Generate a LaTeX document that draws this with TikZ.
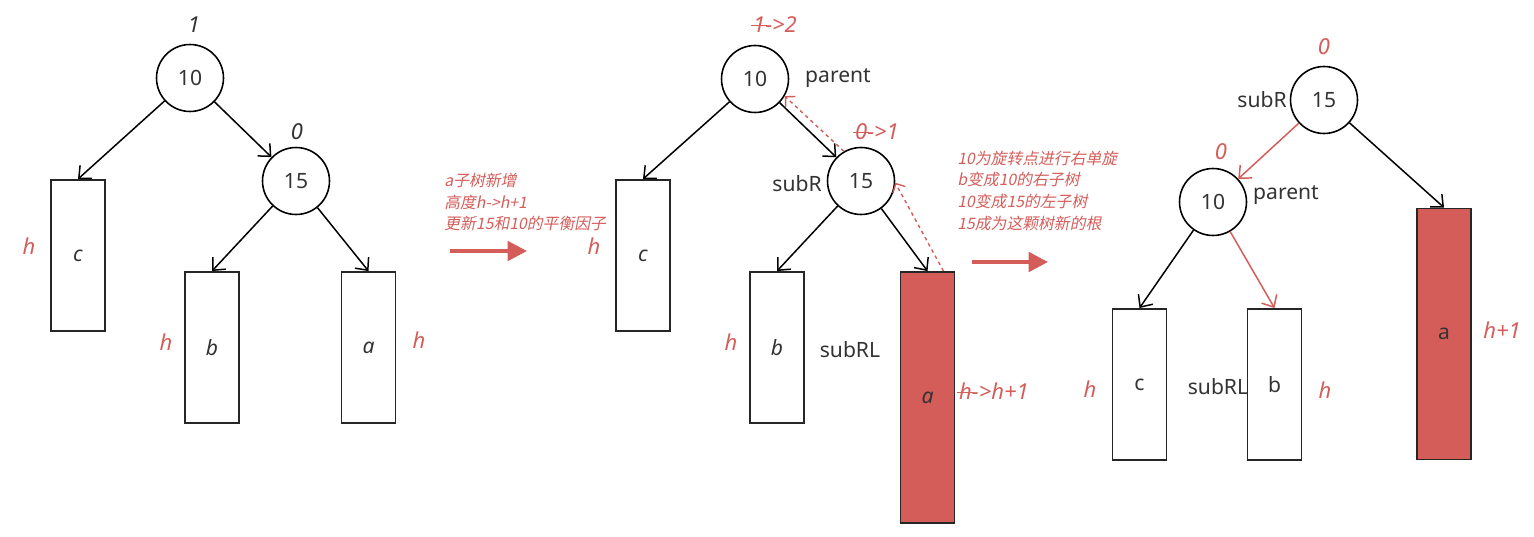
\documentclass[tikz,border=0pt]{standalone}
\usepackage{fontspec}
\setmainfont{Noto Sans}
\newfontfamily\cjk{Noto Sans CJK SC}[FakeSlant=0.2]
\usepackage{xcolor}
\usetikzlibrary{arrows.meta}
\definecolor{myred}{HTML}{D45D5A}
\definecolor{mytext}{HTML}{333333}
\newcommand{\struck}[1]{\ooalign{#1\cr\hidewidth\rule[0.55ex]{0.75em}{0.6pt}\hidewidth\cr}}

\begin{document}
\begin{tikzpicture}[x=0.02cm, y=-0.02cm,
    every node/.style={font=\fontsize{12}{14}\selectfont, text=mytext},
    key/.style={circle, draw, line width=0.9pt, minimum size=1.34cm, inner sep=0pt},
    sub/.style={draw=black!85, line width=1.1pt, minimum width=1.08cm, minimum height=3.02cm, inner sep=0pt},
    tall/.style={sub, fill=myred, minimum height=5.02cm},
    bal/.style={font=\fontsize{12.5}{14}\selectfont\itshape},
    hgt/.style={bal, text=myred},
    note/.style={text=myred, align=left, anchor=west, inner sep=0pt, font=\cjk\fontsize{9}{12.5}\selectfont},
    edge/.style={line width=0.85pt, -{Straight Barb[length=5.5pt, width=10pt]}},
    hint/.style={myred, thick, dash pattern=on 2pt off 2pt, -{Straight Barb[length=4pt, width=8pt]}},
    step arrow/.style={myred, line width=2.2pt, -{Triangle[length=11pt, width=11pt]}}
  ]
  \useasboundingbox (0,0) rectangle (1534,537);

  % before
  \node[key] (aN10) at (190,78) {10};
  \node[key] (aN15) at (296,181) {15};
  \node[sub] (aC) at (78,255.5) {\itshape c};
  \node[sub] (aB) at (212,347.5) {\itshape b};
  \node[sub] (aA) at (368.5,347.5) {\itshape a};
  \node[bal] (aBf10) at (194,25) {1};
  \node[bal] (aBf15) at (297,132) {0};
  \node[hgt] (aHc) at (29,246) {h};
  \node[hgt] (aHb) at (166,342) {h};
  \node[hgt] (aHa) at (419,340) {h};
  \draw[edge] (aN10) -- (aC.north);
  \draw[edge] (aN10) -- (aN15);
  \draw[edge] (aN15) -- (aB.north);
  \draw[edge] (aN15) -- (aA.north);

  \node[note] (note1) at (444,202) {a子树新增\\高度h->h+1\\更新15和10的平衡因子};
  \coordinate (s1) at (450,251);
  \coordinate (e1) at (527,251);
  \draw[step arrow] (s1) -- (e1);

  % after insert
  \node[key] (bN10) at (755,79) {10};
  \node[key] (bN15) at (861,181) {15};
  \node[sub] (bC) at (643,255.5) {\itshape c};
  \node[sub] (bB) at (777,347.5) {\itshape b};
  \node[tall] (bA) at (927.5,397.5) {\itshape a};
  \node[hgt] (bBf10) at (775,25) {\struck{1}->2};
  \node[hgt] (bBf15) at (877,132) {\struck{0}->1};
  \node (bPar) at (838,78) {parent};
  \node (bSubR) at (797,184) {subR};
  \node (bSubRL) at (850,350) {subRL};
  \node[hgt] (bHc) at (594,246) {h};
  \node[hgt] (bHb) at (731,342) {h};
  \node[hgt] (bHa) at (994,391) {\struck{h}->h+1};
  \draw[edge] (bN10) -- (bC.north);
  \draw[edge] (bN10) -- (bN15);
  \draw[edge] (bN15) -- (bB.north);
  \draw[edge] (bN15) -- (bA.north);
  \draw[hint] (bN15.120) -- (bN10.-30);
  \draw[hint] ([xshift=-0.24cm]bA.north east) -- (bN15.-3);

  \node[note] (note2) at (957,191) {10为旋转点进行右单旋\\b变成10的右子树\\10变成15的左子树\\15成为这颗树新的根};
  \coordinate (s2) at (972,262);
  \coordinate (e2) at (1048,262);
  \draw[step arrow] (s2) -- (e2);

  % after rotation
  \node[key] (cN15) at (1324,100) {15};
  \node[key] (cN10) at (1213,202) {10};
  \node[sub] (cC) at (1139.5,384.5) {c};
  \node[sub] (cB) at (1274.5,384.5) {b};
  \node[tall] (cA) at (1444,334) {a};
  \node[hgt] (cBf15) at (1324,47) {0};
  \node[hgt] (cBf10) at (1221,152) {0};
  \node (cSubR) at (1262,100) {subR};
  \node (cPar) at (1286,195) {parent};
  \node (cSubRL) at (1218,387) {subRL};
  \node[hgt] (cHc) at (1090,389) {h};
  \node[hgt] (cHb) at (1325,390) {h};
  \node[hgt] (cHa) at (1502,330) {h+1};
  \draw[edge, myred] (cN15) -- (cN10);
  \draw[edge] (cN15) -- (cA.north);
  \draw[edge] (cN10) -- (cC.north);
  \draw[edge, myred] (cN10) -- (cB.north);
\end{tikzpicture}
\end{document}
